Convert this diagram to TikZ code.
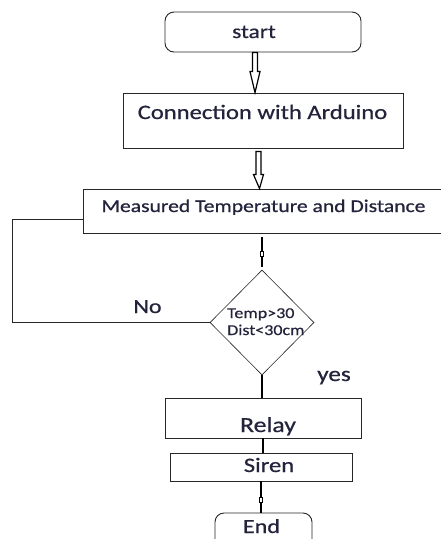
\documentclass[tikz,border=0pt]{standalone}
\usepackage{fontspec}
\setmainfont{Carlito}[FakeBold=0.6]
\usetikzlibrary{shapes.geometric,calc}
\definecolor{txtcol}{RGB}{35,35,60}
\tikzset{
  box/.style={draw=black!85, line width=0.9pt, inner sep=0pt},
  roundbox/.style={box, rounded corners=9pt},
  dia/.style={draw=black!85, line width=0.6pt, diamond, inner sep=0pt, minimum width=104pt, minimum height=105pt},
  txt/.style={anchor=base, inner sep=0pt, xscale=1.2, transform shape, text=txtcol},
  thickline/.style={line width=2.2pt, black},
  thinline/.style={line width=0.9pt, black!85},
  smallmark/.style={draw, fill=white, line width=0.6pt, minimum width=3pt, minimum height=5pt, inner sep=0pt},
  harr/.style={draw=black, line width=1.2pt, fill=white},
}
\newcommand\hollowarrow[4]{%
  \draw[harr] let \p1=(#1), \p2=(#2) in
    (\x1-#3,\y1) -- (\x1-#3,\y2+#4) -- (\x1-5pt,\y2+#4) -- (\x2,\y2)
    -- (\x1+5pt,\y2+#4) -- (\x1+#3,\y2+#4) -- (\x1+#3,\y1) -- cycle;}
\begin{document}
\begin{tikzpicture}[x=1pt,y=-1pt]
\useasboundingbox[fill=white] (0,0) rectangle (441,539);
% boxes
\node[roundbox, minimum width=196pt, minimum height=40pt] (start) at (263,32) {};
\node[box, minimum width=280pt, minimum height=55pt] (conn) at (263,120.5) {};
\node[box, minimum width=362pt, minimum height=44pt] (meas) at (264,211) {};
\node[dia] (dia) at (262,322.5) {};
\node[box, minimum width=196pt, minimum height=40pt] (relay) at (263,418) {};
\node[box, minimum width=182pt, minimum height=28pt] (siren) at (261,467) {};
\node[roundbox, minimum width=97pt, minimum height=40pt] (endn) at (263.5,533) {};
% texts
\node[txt, font=\fontsize{19.5}{20}\selectfont] (tstart) at (254,38) {start};
\node[txt, font=\fontsize{20.5}{21}\selectfont] (tconn) at (262.5,119) {Connection with Arduino};
\node[txt, font=\fontsize{18}{19}\selectfont] (tmeas) at (263.5,212) {Measured Temperature and Distance};
\node[txt, anchor=base west, font=\fontsize{15}{16}\selectfont] (ttemp) at (227,318) {Temp>30};
\node[txt, anchor=base west, font=\fontsize{15}{16}\selectfont] (tdist) at (227,335) {Dist<30cm};
\node[txt, font=\fontsize{20}{21}\selectfont] (tno) at (147.5,313) {No};
\node[txt, font=\fontsize{21}{22}\selectfont] (tyes) at (334,381) {yes};
\node[txt, font=\fontsize{21.5}{22}\selectfont] (trelay) at (268,432) {Relay};
\node[txt, font=\fontsize{20.5}{21}\selectfont] (tsiren) at (269,472) {Siren};
\node[txt, font=\fontsize{20}{21}\selectfont] (tend) at (261.5,533) {End};
% hollow arrows
\coordinate (a1s) at ($(start.south)+(-8,0)$);
\coordinate (a1e) at ($(conn.north)+(-8,0)$);
\hollowarrow{a1s}{a1e}{2.5pt}{21pt}
\coordinate (a2s) at ($(conn.south)+(-4.5,3)$);
\coordinate (a2e) at ($(meas.north)+(-4.5,0)$);
\hollowarrow{a2s}{a2e}{2.5pt}{14pt}
% thick connectors
\coordinate (m1) at ($(dia.north |- meas.south)+(0,4)$);
\draw[thickline] (m1) -- ($(dia.north)+(0,-3)$) node[smallmark, pos=0.55] (mk1) {};
\draw[thickline] (dia.south) -- (dia.south |- relay.north);
\coordinate (r1) at ($(relay.south)+(0,0)$);
\draw[thickline] (r1) -- (r1 |- siren.north);
\coordinate (s1) at ($(siren.south)+(0,0)$);
\draw[thickline] (s1) -- (s1 |- endn.north) node[smallmark, pos=0.6] (mk2) {};
% feedback line
\coordinate (mw) at ($(meas.west)+(0,8)$);
\coordinate (fb) at (12,322.5);
\draw[thinline] (mw) -| (fb) -- (dia.west);
\end{tikzpicture}
\end{document}
